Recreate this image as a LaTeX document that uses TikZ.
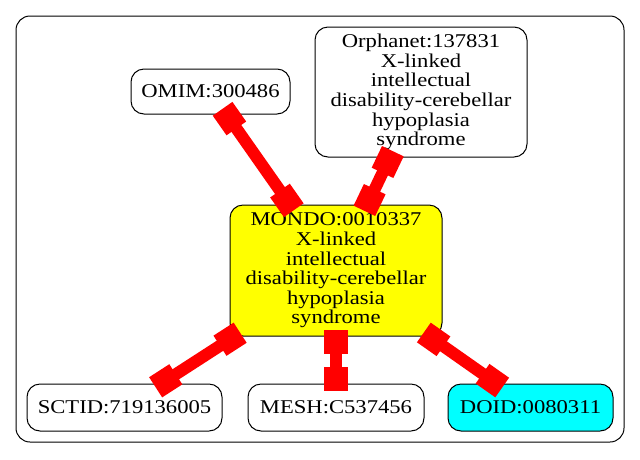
\documentclass[tikz,border=0pt]{standalone}
\usepackage{fontspec}
\setmainfont{Liberation Serif}[FakeStretch=1.16]
\usetikzlibrary{arrows.meta}
\definecolor{termyellow}{RGB}{255,255,0}
\definecolor{termcyan}{RGB}{0,255,255}
\definecolor{linkred}{RGB}{255,0,0}

\begin{document}
\begin{tikzpicture}[x=1pt,y=-1pt,line width=1pt,
    term/.style={draw,rounded corners=13pt,align=center,inner sep=0pt,
      font=\fontsize{19.5}{19.6}\selectfont},
    link/.style={linkred,line width=12pt,
      {Square[length=24pt,width=24pt]}-{Square[length=24pt,width=24pt]},
      shorten <=-7pt,shorten >=-7pt}]
    \useasboundingbox (0,0) rectangle (640,459);
    \draw[rounded corners=14pt] (16,16) rectangle (624,442);
    % terms
    \node[term,minimum width=159pt,minimum height=45pt] (omim) at (210.5,91.5) {OMIM:300486};
    \node[term,minimum width=212pt,minimum height=130pt] (orpha) at (421,92)
        {Orphanet:137831\\X-linked\\intellectual\\disability-cerebellar\\hypoplasia\\syndrome};
    \node[term,fill=termyellow,minimum width=212pt,minimum height=131pt] (mondo) at (336,270.5)
        {MONDO:0010337\\X-linked\\intellectual\\disability-cerebellar\\hypoplasia\\syndrome};
    \node[term,minimum width=195pt,minimum height=47pt] (sctid) at (124.5,407.5) {SCTID:719136005};
    \node[term,minimum width=176pt,minimum height=47pt] (mesh) at (336,407.5) {MESH:C537456};
    \node[term,fill=termcyan,minimum width=165pt,minimum height=47pt] (doid) at (530.5,407.5) {DOID:0080311};
    % links
    \draw[link] (omim) -- (mondo);
    \draw[link] (orpha) -- (mondo);
    \draw[link] (mondo) -- (sctid);
    \draw[link] (mondo) -- (mesh);
    \draw[link] (mondo) -- (doid);
\end{tikzpicture}
\end{document}
